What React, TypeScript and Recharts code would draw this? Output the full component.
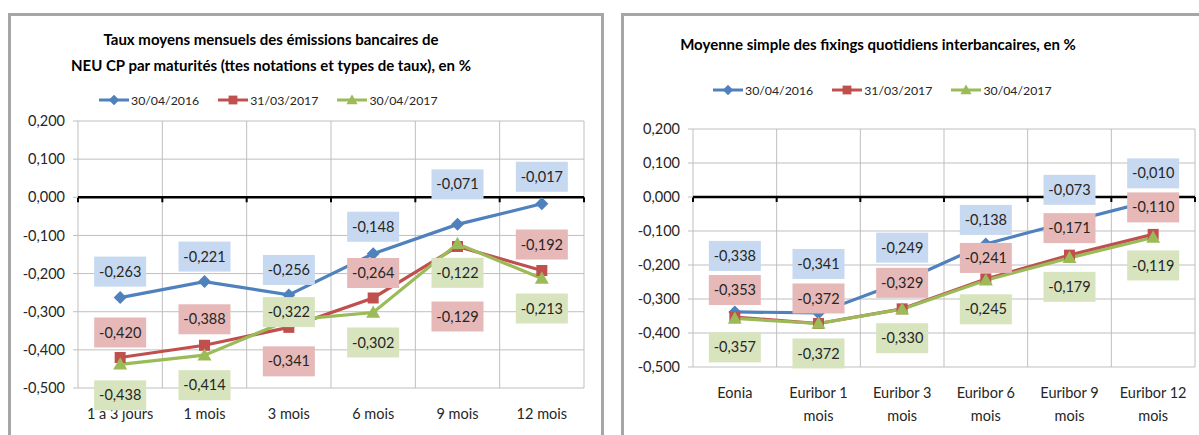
import React from 'react';
import { LineChart, Line, XAxis, YAxis, CartesianGrid, ReferenceLine, LabelList } from 'recharts';

// ---------- data ----------
const seriesNames = ['30/04/2016', '31/03/2017', '30/04/2017'];

const neuCategories = ['1 à 3 jours', '1 mois', '3 mois', '6 mois', '9 mois', '12 mois'];
const neu2016 = [-0.263, -0.221, -0.256, -0.148, -0.071, -0.017];
const neuMar2017 = [-0.42, -0.388, -0.341, -0.264, -0.129, -0.192];
const neuApr2017 = [-0.438, -0.414, -0.322, -0.302, -0.122, -0.213];

const fixCategories = ['Eonia', 'Euribor 1 mois', 'Euribor 3 mois', 'Euribor 6 mois', 'Euribor 9 mois', 'Euribor 12 mois'];
const fix2016 = [-0.338, -0.341, -0.249, -0.138, -0.073, -0.01];
const fixMar2017 = [-0.353, -0.372, -0.329, -0.241, -0.171, -0.11];
const fixApr2017 = [-0.357, -0.372, -0.33, -0.245, -0.179, -0.119];

const yTicks = [0.2, 0.1, 0, -0.1, -0.2, -0.3, -0.4, -0.5];

// label placement (vertical offset from point to label centre, px)
const neuLabelOffsets = [
  [-26, -25, -25, -27, -40, -27],
  [-25, -26, 34, -25, 70, -26],
  [31, 30, -8, 30, 29, 30],
];
const fixLabelOffsets = [
  [-56, -49, -34, -24, -32, -27],
  [-27, -25, -26, -21, -27, -27],
  [29, 30, 29, 29, 29, 28],
];

// ---------- styles ----------
const FONT = 'Lato, "Open Sans", sans-serif';
const COLORS = ['#4F81BD', '#C0504D', '#9BBB59'];
const LABEL_FILLS = ['#C6D9F1', '#E6B9B8', '#D7E4BD'];
const GRID = '#BFBFBF';
const TEXT = '#262626';

const fmt = (v: number) => v.toFixed(3).replace('.', ',');

const Marker = ({ kind, cx, cy, color, s = 1 }: any) => {
  if (cx == null || cy == null) return null;
  if (kind === 0) {
    const r = 6.5 * s;
    return <polygon points={`${cx},${cy - r} ${cx + r},${cy} ${cx},${cy + r} ${cx - r},${cy}`} fill={color} />;
  }
  if (kind === 1) {
    const h = 5.5 * s;
    return <rect x={cx - h} y={cy - h} width={2 * h} height={2 * h} fill={color} />;
  }
  const t = 7 * s;
  return <polygon points={`${cx},${cy - t} ${cx + t},${cy + t * 0.75} ${cx - t},${cy + t * 0.75}`} fill={color} />;
};

const makeLabel = (series: number, offsets: number[][]) => (props: any) => {
  const x = props.x ?? props.viewBox?.x;
  const y = props.y ?? props.viewBox?.y;
  const { value, index } = props;
  if (x == null || y == null || value == null) return null;
  const cy = y + offsets[series][index];
  const w = 52;
  const h = 30;
  return (
    <g key={`lbl-${series}-${index}`}>
      <rect x={x - w / 2} y={cy - h / 2} width={w} height={h} fill={LABEL_FILLS[series]} />
      <text x={x} y={cy} dy="0.35em" textAnchor="middle" fontSize={14.5} fontFamily={FONT} fill={TEXT}>
        {fmt(value)}
      </text>
    </g>
  );
};

const ZeroLine = (p: any) => {
  const { x1, x2, y1 } = p;
  if (x1 == null) return null;
  const n = 6;
  const ticks = [];
  for (let i = 0; i <= n; i++) {
    const x = x1 + (i * (x2 - x1)) / n;
    ticks.push(<line key={i} x1={x} x2={x} y1={y1} y2={y1 + 5} stroke="#000" strokeWidth={2} />);
  }
  return (
    <g>
      <line x1={x1} x2={x2} y1={y1} y2={y1} stroke="#000" strokeWidth={2.5} />
      {ticks}
    </g>
  );
};

const SingleTick = (props: any) => {
  const { x, y, payload } = props;
  return (
    <text x={x} y={y + 23} textAnchor="middle" fontSize={14.5} fontFamily={FONT} fill={TEXT}>
      {payload.value}
    </text>
  );
};

const WrapTick = (props: any) => {
  const { x, y, payload } = props;
  const m = String(payload.value).match(/^(.*) (mois)$/);
  const lines = m ? [m[1], m[2]] : [payload.value];
  return (
    <g>
      {lines.map((l: string, i: number) => (
        <text key={i} x={x} y={y + 23 + i * 23} textAnchor="middle" fontSize={14.5} fontFamily={FONT} fill={TEXT}>
          {l}
        </text>
      ))}
    </g>
  );
};

const Legend = ({ left, top }: { left: number; top: number }) => (
  <div style={{ position: 'absolute', left, top, display: 'flex', alignItems: 'center', height: 20, fontFamily: FONT, fontSize: 12.3, color: TEXT, whiteSpace: 'nowrap' }}>
    {seriesNames.map((n, i) => (
      <div key={n} style={{ display: 'flex', alignItems: 'center', marginRight: 19 }}>
        <svg width={30} height={16}>
          <line x1={0} x2={30} y1={8} y2={8} stroke={COLORS[i]} strokeWidth={3} />
          <Marker kind={i} cx={15} cy={8} color={COLORS[i]} s={0.8} />
        </svg>
        <span style={{ marginLeft: 2 }}>{n}</span>
      </div>
    ))}
  </div>
);

type PanelProps = {
  categories: string[];
  series: number[][];
  offsets: number[][];
  width: number;
  margin: any;
  yWidth: number;
  wrap?: boolean;
};

const Panel = ({ categories, series, offsets, width, margin, yWidth, wrap }: PanelProps) => {
  const data = categories.map((name, i) => ({ name, s0: series[0][i], s1: series[1][i], s2: series[2][i] }));
  const n = categories.length;
  return (
    <LineChart width={width} height={435} data={data} margin={margin}>
      <CartesianGrid
        stroke={GRID}
        strokeWidth={1}
        verticalCoordinatesGenerator={({ offset }: any) =>
          Array.from({ length: n + 1 }, (_, i) => offset.left + (i * offset.width) / n)
        }
      />
      <XAxis
        dataKey="name"
        scale="band"
        axisLine={false}
        tickLine={false}
        height={30}
        interval={0}
        tick={wrap ? <WrapTick /> : <SingleTick />}
      />
      <YAxis
        domain={[-0.5, 0.2]}
        ticks={yTicks}
        interval={0}
        width={yWidth}
        axisLine={false}
        tickLine={{ stroke: GRID }}
        tickSize={5}
        tickMargin={8}
        tickFormatter={fmt}
        tick={{ fontSize: 14.5, fontFamily: FONT, fill: TEXT }}
      />
      <ReferenceLine y={0} shape={ZeroLine} />
      {[0, 1, 2].map((s) => (
        <Line
          key={`l${s}`}
          dataKey={`s${s}`}
          stroke={COLORS[s]}
          strokeWidth={3.2}
          isAnimationActive={false}
          activeDot={false}
          dot={(p: any) => <Marker key={`m${s}-${p.index}`} kind={s} cx={p.cx} cy={p.cy} color={COLORS[s]} />}
        />
      ))}
      {[0, 1, 2].map((s) => (
        <Line
          key={`lab${s}`}
          dataKey={`s${s}`}
          stroke="none"
          dot={false}
          activeDot={false}
          legendType="none"
          isAnimationActive={false}
        >
          <LabelList dataKey={`s${s}`} content={makeLabel(s, offsets)} />
        </Line>
      ))}
    </LineChart>
  );
};

const border = '3px solid #A6A6A6';

export default function App() {
  return (
    <div style={{ position: 'absolute', left: 0, top: 0, width: 1199, height: 435, overflow: 'hidden', background: '#fff' }}>
      <div style={{ position: 'absolute', left: 8, top: 13, width: 590, height: 440, borderLeft: border, borderTop: border, borderRight: border }} />
      <div style={{ position: 'absolute', left: 621, top: 13, width: 600, height: 440, borderLeft: border, borderTop: border }} />

      <div style={{ position: 'absolute', left: 21, top: 26, width: 500, textAlign: 'center', fontFamily: FONT, fontWeight: 700, fontSize: 15, lineHeight: '26px', color: '#000', whiteSpace: 'nowrap' }}>
        Taux moyens mensuels des émissions bancaires de
        <br />
        NEU CP par maturités (ttes notations et types de taux), en %
      </div>
      <div style={{ position: 'absolute', left: 628, top: 31, width: 500, textAlign: 'center', fontFamily: FONT, fontWeight: 700, fontSize: 15, lineHeight: '26px', color: '#000', whiteSpace: 'nowrap' }}>
        Moyenne simple des fixings quotidiens interbancaires, en %
      </div>

      <Legend left={99} top={90} />
      <Legend left={713} top={80} />

      <div style={{ position: 'absolute', left: 0, top: 0 }}>
        <Panel
          categories={neuCategories}
          series={[neu2016, neuMar2017, neuApr2017]}
          offsets={neuLabelOffsets}
          width={604}
          margin={{ top: 121, right: 20, bottom: 17, left: 0 }}
          yWidth={78}
        />
      </div>
      <div style={{ position: 'absolute', left: 622, top: 0 }}>
        <Panel
          categories={fixCategories}
          series={[fix2016, fixMar2017, fixApr2017]}
          offsets={fixLabelOffsets}
          width={577}
          margin={{ top: 129, right: 4, bottom: 38, left: 0 }}
          yWidth={71}
          wrap
        />
      </div>
    </div>
  );
}
